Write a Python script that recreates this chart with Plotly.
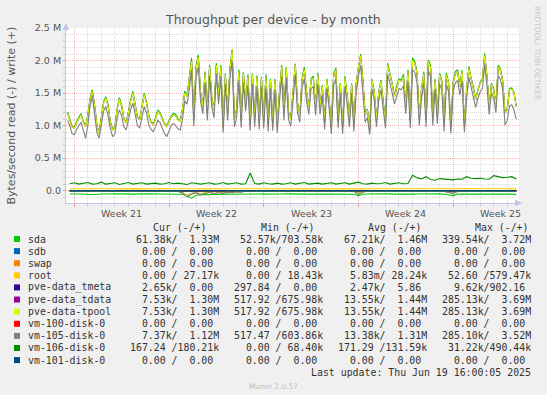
import plotly.graph_objects as go
import pandas as pd

# ---------------- data (k bytes/s) ----------------
END = pd.Timestamp("2025-06-19 16:00")

# 4-hour samples (200 points, ending at END)
tpool_write_k = [
    1190, 1080, 980, 960, 1050, 1110, 1164, 1050, 985, 1150,
    1400, 1523, 1300, 1000, 882, 1150, 1350, 1420, 1300, 1050,
    934, 960, 1250, 1405, 1300, 1100, 1036, 1200, 1380, 1498,
    1300, 1120, 1087, 1300, 1472, 1350, 1150, 1050, 1010, 1100,
    1216, 1180, 1100, 1020, 985, 1050, 1130, 1164, 1150, 1090,
    1062, 1250, 1500, 1450, 1700, 1985, 1100, 1880, 2050, 1500,
    1300, 1800, 1190, 1900, 1400, 1240, 1930, 1450, 1900, 960,
    1780, 1190, 1850, 2150, 1090, 1240, 1830, 1090, 1800, 1340,
    1750, 1010, 1780, 1090, 1750, 1040, 1730, 1060, 1750, 1010,
    1700, 1010, 1700, 985, 1500, 1900, 1190, 1880, 1200, 1090,
    1500, 1930, 1340, 1150, 1700, 1860, 1500, 1290, 1700, 1730,
    1280, 1780, 1290, 1600, 1040, 1700, 1400, 960, 1750, 1860,
    1060, 1630, 960, 1730, 1450, 1090, 1630, 1010, 1630, 1900,
    2070, 1680, 1160, 1240, 930, 1700, 1520, 1090, 1500, 1680,
    1340, 1060, 1930, 1800, 1630, 1450, 1600, 1700, 1680, 1750,
    1290, 1830, 1060, 2000, 1960, 1800, 1110, 1550, 1800, 1090,
    1980, 1900, 1110, 1700, 1140, 1780, 1680, 1010, 1780, 1650,
    960, 1650, 1800, 1830, 1600, 1830, 990, 1550, 1880, 1700,
    1580, 1400, 1550, 1650, 1700, 2080, 1750, 1290, 1630, 1550,
    1320, 1900, 1850, 1680, 1190, 1240, 1550, 1560, 1500, 1290,
]
tdata_write_k = tpool_write_k  # identical per legend

vm105_write_k = [
    1080, 1000, 880, 857, 940, 1000, 1050, 930, 805, 1000,
    1300, 1450, 1200, 900, 805, 1000, 1220, 1293, 1150, 950,
    831, 870, 1120, 1241, 1150, 980, 934, 1080, 1250, 1344,
    1180, 1000, 960, 1150, 1293, 1200, 1020, 940, 908, 980,
    1080, 1050, 960, 880, 831, 920, 1000, 1036, 1000, 950,
    934, 1100, 1380, 1330, 1560, 1850, 990, 1740, 1900, 1380,
    1180, 1660, 1080, 1760, 1280, 1120, 1800, 1330, 1760, 890,
    1640, 1080, 1700, 2000, 980, 1120, 1700, 970, 1660, 1220,
    1620, 920, 1640, 980, 1610, 940, 1600, 960, 1600, 910,
    1570, 920, 1560, 890, 1380, 1760, 1080, 1740, 1090, 990,
    1380, 1790, 1200, 1050, 1570, 1720, 1380, 1170, 1570, 1600,
    1160, 1640, 1170, 1470, 940, 1570, 1280, 870, 1620, 1720,
    960, 1500, 870, 1600, 1330, 980, 1500, 910, 1500, 1760,
    1930, 1550, 1050, 1120, 860, 1570, 1400, 980, 1380, 1550,
    1220, 960, 1790, 1660, 1500, 1330, 1470, 1570, 1550, 1610,
    1180, 1690, 960, 1860, 1820, 1660, 1000, 1420, 1660, 980,
    1840, 1760, 1000, 1570, 1030, 1640, 1550, 910, 1640, 1520,
    880, 1520, 1660, 1690, 1470, 1690, 900, 1420, 1740, 1570,
    1450, 1280, 1420, 1520, 1570, 1940, 1610, 1170, 1500, 1420,
    1200, 1760, 1710, 1550, 1010, 1080, 1300, 1320, 1240, 1100,
]

sda_write_k = [
    1210, 1100, 995, 975, 1065, 1130, 1185, 1065, 1000, 1170,
    1425, 1550, 1320, 1015, 895, 1170, 1370, 1445, 1320, 1065,
    950, 975, 1270, 1430, 1320, 1115, 1050, 1220, 1405, 1525,
    1320, 1135, 1100, 1320, 1500, 1370, 1165, 1065, 1025, 1120,
    1240, 1200, 1115, 1035, 1000, 1065, 1150, 1190, 1170, 1105,
    1075, 1270, 1530, 1470, 1720, 2040, 1115, 1910, 2090, 1520,
    1315, 1830, 1205, 1930, 1420, 1255, 1960, 1465, 1930, 975,
    1800, 1205, 1880, 2170, 1105, 1255, 1860, 1105, 1820, 1355,
    1790, 1025, 1800, 1105, 1770, 1055, 1750, 1075, 1790, 1025,
    1720, 1025, 1720, 1000, 1520, 1930, 1205, 1900, 1215, 1105,
    1520, 1950, 1355, 1165, 1720, 1900, 1520, 1305, 1720, 1760,
    1295, 1810, 1305, 1620, 1055, 1720, 1415, 975, 1790, 1890,
    1075, 1650, 975, 1760, 1465, 1105, 1650, 1025, 1650, 1920,
    2100, 1700, 1175, 1255, 945, 1720, 1535, 1105, 1520, 1700,
    1355, 1075, 1960, 1820, 1650, 1465, 1620, 1720, 1700, 1790,
    1305, 1860, 1075, 2040, 1990, 1820, 1125, 1565, 1830, 1105,
    2010, 1930, 1125, 1720, 1155, 1800, 1700, 1025, 1810, 1670,
    975, 1670, 1830, 1860, 1620, 1850, 1005, 1565, 1910, 1720,
    1600, 1415, 1565, 1670, 1720, 2110, 1770, 1305, 1650, 1565,
    1335, 1930, 1870, 1700, 1205, 1255, 1570, 1580, 1515, 1305,
]

# 8-hour samples (100 points, ending at END)
vm106_write_k = [
    105, 120, 100, 110, 125, 100, 105, 130, 100, 110,
    120, 95, 110, 125, 100, 105, 120, 100, 110, 115,
    100, 105, 125, 105, 115, 110, 95, 120, 110, 100,
    110, 120, 100, 105, 125, 100, 110, 120, 100, 105,
    270, 110, 100, 120, 105, 100, 115, 100, 105, 120,
    100, 110, 125, 100, 105, 115, 100, 110, 120, 100,
    105, 120, 100, 110, 130, 105, 100, 115, 105, 110,
    125, 100, 110, 120, 105, 110, 235, 200, 180, 215,
    170, 160, 185, 175, 170, 165, 180, 175, 215, 190,
    185, 190, 180, 175, 230, 210, 200, 205, 215, 180,
]
sda_read_k = [
    52, 50, 53, 51, 58, 62, 60, 52, 50, 53,
    51, 52, 50, 54, 51, 50, 53, 52, 50, 51,
    53, 50, 52, 51, 50, 55, 80, 115, 72, 60,
    58, 62, 55, 60, 54, 52, 55, 53, 51, 52,
    54, 52, 51, 53, 50, 52, 54, 51, 50, 53,
    52, 50, 53, 51, 54, 52, 50, 53, 51, 52,
    50, 53, 52, 55, 78, 56, 52, 50, 53, 51,
    52, 50, 54, 51, 52, 50, 53, 52, 50, 51,
    53, 52, 50, 55, 62, 76, 54, 51, 50, 52,
    51, 53, 50, 52, 51, 54, 52, 50, 53, 61,
]
tpool_read_k = [
    8, 10, 7, 9, 12, 8, 7, 11, 9, 8,
    10, 8, 9, 7, 11, 8, 9, 10, 8, 7,
    9, 11, 8, 10, 9, 30, 75, 45, 25, 55,
    30, 20, 45, 25, 35, 15, 28, 12, 18, 10,
    9, 12, 8, 10, 14, 9, 8, 11, 10, 9,
    12, 8, 10, 9, 11, 8, 10, 9, 12, 8,
    9, 10, 8, 12, 45, 15, 9, 10, 8, 11,
    9, 8, 12, 10, 9, 8, 11, 9, 10, 8,
    12, 9, 10, 11, 25, 35, 12, 9, 8, 10,
    9, 11, 8, 10, 9, 12, 8, 10, 9, 8,
]
tdata_read_k = tpool_read_k  # identical per legend
vm105_read_k = [
    7, 9, 6, 8, 11, 7, 6, 10, 8, 7,
    9, 7, 8, 6, 10, 7, 8, 9, 7, 6,
    8, 10, 7, 9, 8, 40, 95, 55, 35, 65,
    40, 25, 55, 30, 45, 20, 35, 15, 22, 9,
    8, 11, 7, 9, 13, 8, 7, 10, 9, 8,
    11, 7, 9, 8, 10, 7, 9, 8, 11, 7,
    8, 9, 7, 11, 60, 20, 8, 9, 7, 10,
    8, 7, 11, 9, 8, 7, 10, 8, 9, 7,
    11, 8, 9, 10, 30, 45, 11, 8, 7, 9,
    8, 10, 7, 9, 8, 11, 7, 9, 8, 7,
]
root_write_k = [
    30, 28, 27, 31, 29, 28, 30, 27, 29, 31,
    28, 27, 30, 29, 28, 31, 27, 29, 30, 28,
    27, 29, 31, 28, 30, 32, 29, 28, 30, 27,
    29, 31, 28, 27, 30, 29, 28, 31, 27, 29,
    30, 28, 27, 29, 31, 28, 30, 27, 29, 28,
    31, 28, 27, 30, 29, 28, 31, 27, 29, 30,
    28, 27, 29, 31, 28, 30, 27, 29, 28, 31,
    28, 27, 30, 29, 28, 31, 27, 29, 30, 28,
    27, 29, 31, 28, 30, 27, 29, 28, 31, 28,
    27, 30, 29, 28, 31, 27, 29, 28, 30, 27,
]

# daily samples (34 points, ending at END)
tmeta_read_k = [2.4, 2.6, 2.5, 2.3, 2.5, 2.7, 2.4, 2.5, 2.6, 2.4, 2.5, 2.3,
                2.6, 2.5, 2.4, 2.5, 2.6, 2.4, 2.5, 2.7, 2.4, 2.5, 2.3, 2.6,
                2.5, 2.4, 2.6, 2.5, 2.4, 2.5, 2.6, 2.4, 2.5, 2.65]
tmeta_write_k = [0.006, 0.005, 0.007, 0.006, 0.005, 0.006, 0.007, 0.006, 0.005,
                 0.006, 0.006, 0.005, 0.007, 0.006, 0.005, 0.006, 0.007, 0.006,
                 0.005, 0.006, 0.006, 0.005, 0.007, 0.006, 0.005, 0.006, 0.007,
                 0.006, 0.005, 0.006, 0.006, 0.005, 0.006, 0.0]
vm106_read_k = [0.17, 0.15, 0.2, 0.16, 0.18, 0.17, 0.15, 0.19, 0.17, 0.16, 0.18,
                0.17, 0.15, 0.2, 0.16, 0.18, 0.17, 0.15, 0.19, 0.17, 0.16, 0.18,
                0.17, 0.15, 0.2, 0.16, 0.18, 0.17, 0.15, 0.19, 0.17, 0.16, 0.18, 0.17]
zero_k = [0, 0, 0, 0, 0, 0, 0, 0, 0, 0, 0, 0, 0, 0, 0, 0, 0,
          0, 0, 0, 0, 0, 0, 0, 0, 0, 0, 0, 0, 0, 0, 0, 0, 0]

# legend table
legend_names = ["sda", "sdb", "swap", "root", "pve-data_tmeta", "pve-data_tdata",
                "pve-data-tpool", "vm-100-disk-0", "vm-105-disk-0", "vm-106-disk-0",
                "vm-101-disk-0"]
legend_colors = ["#00CC00", "#0066B3", "#FF8000", "#FFCC00", "#330099", "#990099",
                 "#CCFF00", "#FF0000", "#808080", "#008F00", "#00487D"]
Z = "  0.00 /  0.00 "
cur_col = [" 61.38k/  1.33M", Z, Z, "  0.00 / 27.17k", "  2.65k/  0.00 ",
           "  7.53k/  1.30M", "  7.53k/  1.30M", Z, "  7.37k/  1.12M",
           "167.24 /180.21k", Z]
min_col = [" 52.57k/703.58k", Z, Z, "  0.00 / 18.43k", "297.84 /  0.00 ",
           "517.92 /675.98k", "517.92 /675.98k", Z, "517.47 /603.86k",
           "  0.00 / 68.40k", Z]
avg_col = [" 67.21k/  1.46M", Z, Z, "  5.83m/ 28.24k", "  2.47k/  5.86 ",
           " 13.55k/  1.44M", " 13.55k/  1.44M", Z, " 13.38k/  1.31M",
           "171.29 /131.59k", Z]
max_col = ["339.54k/  3.72M", Z, Z, " 52.60 /579.47k", "  9.62k/902.16 ",
           "285.13k/  3.69M", "285.13k/  3.69M", Z, "285.10k/  3.52M",
           " 31.22k/490.44k", Z]
headers = ["Cur (-/+)", "Min (-/+)", "Avg (-/+)", "Max (-/+)"]
week_labels = ["Week 21", "Week 22", "Week 23", "Week 24", "Week 25"]
week_mid = ["2025-05-21 12:00", "2025-05-28 12:00", "2025-06-04 12:00",
            "2025-06-11 12:00", "2025-06-18 12:00"]
y_tickvals = [0, 0.5e6, 1.0e6, 1.5e6, 2.0e6, 2.5e6]
y_ticktext = ["0.0", "0.5 M", "1.0 M", "1.5 M", "2.0 M", "2.5 M"]

# ---------------- helpers ----------------
def times(n, hours):
    return pd.date_range(end=END, periods=n, freq=f"{hours}h")

def pos(vals):
    return [v * 1000 for v in vals]

def neg(vals):
    return [-v * 1000 for v in vals]

def px(x):
    return (x - 66) / 453.0

def py(y):
    return (203 - y) / 175.0

fig = go.Figure()

def add(vals, color, step, sign=1, width=1.1):
    fig.add_trace(go.Scatter(
        x=times(len(vals), step), y=pos(vals) if sign > 0 else neg(vals),
        mode="lines", line=dict(color=color, width=width),
        hoverinfo="skip", showlegend=False))

C = dict(zip(legend_names, legend_colors))
# draw in munin order: read (negative) then write (positive)
add(sda_read_k, C["sda"], 8, -1)
add(sda_write_k, C["sda"], 4)
add(zero_k, C["sdb"], 24, -1); add(zero_k, C["sdb"], 24)
add(zero_k, C["swap"], 24, -1); add(zero_k, C["swap"], 24)
add(zero_k, C["root"], 24, -1)
add(root_write_k, C["root"], 8)
add(tmeta_read_k, C["pve-data_tmeta"], 24, -1)
add(tmeta_write_k, C["pve-data_tmeta"], 24)
add(tdata_read_k, C["pve-data_tdata"], 8, -1)
add(tdata_write_k, C["pve-data_tdata"], 4)
add(tpool_read_k, C["pve-data-tpool"], 8, -1)
add(tpool_write_k, C["pve-data-tpool"], 4)
add(zero_k, C["vm-100-disk-0"], 24, -1); add(zero_k, C["vm-100-disk-0"], 24)
add(vm105_read_k, C["vm-105-disk-0"], 8, -1)
add(vm105_write_k, C["vm-105-disk-0"], 4)
add(vm106_read_k, C["vm-106-disk-0"], 24, -1)
add(vm106_write_k, C["vm-106-disk-0"], 8)
add(zero_k, C["vm-101-disk-0"], 24, -1); add(zero_k, C["vm-101-disk-0"], 24)

# ---------------- layout ----------------
AXC = "#c4c4e4"
MAJ = "#f3b4b4"
MIN = "#dcdcdc"
fig.update_layout(
    width=547, height=395, autosize=False,
    margin=dict(l=66, r=28, t=28, b=192, pad=0),
    paper_bgcolor="#F0F0F0", plot_bgcolor="#FFFFFF",
    hovermode=False,
    font=dict(family="DejaVu Sans", size=10, color="#555555"),
    xaxis=dict(
        type="date", range=["2025-05-17 09:17", "2025-06-19 20:53"],
        tickmode="linear", tick0="2025-05-18", dtick=7 * 86400000,
        showticklabels=False, showgrid=True, gridcolor=MAJ,
        griddash="1px,1px", gridwidth=1,
        ticks="outside", ticklen=3, tickcolor="#f08a8a",
        showline=True, linecolor=AXC, linewidth=1, zeroline=False,
        minor=dict(tickmode="linear", tick0="2025-05-18", dtick=86400000,
                   showgrid=True, gridcolor=MIN, griddash="1px,1px",
                   ticks="outside", ticklen=2, tickcolor="#c8c8c8"),
        fixedrange=True,
    ),
    yaxis=dict(
        range=[-0.19e6, 2.5e6], tickmode="array", tickvals=y_tickvals,
        ticktext=y_ticktext, showgrid=True, gridcolor=MAJ,
        griddash="1px,1px", gridwidth=1, zeroline=False,
        ticks="outside", ticklen=2, tickcolor="#f08a8a",
        showline=True, linecolor=AXC, linewidth=1,
        tickfont=dict(family="DejaVu Sans", size=9.5, color="#555555"),
        minor=dict(tickmode="linear", tick0=0, dtick=1e5, showgrid=True,
                   gridcolor=MIN, griddash="1px,1px",
                   ticks="outside", ticklen=2, tickcolor="#c8c8c8"),
        fixedrange=True,
    ),
)

ann = []
shapes = []
# title
ann.append(dict(text="Throughput per device - by month", x=px(273), y=py(20),
                xref="paper", yref="paper", showarrow=False, xanchor="center",
                yanchor="middle", font=dict(family="DejaVu Sans", size=12.5, color="#555555")))
# y label
ann.append(dict(text="Bytes/second read (-) / write (+)", x=px(11), y=py(115.5),
                xref="paper", yref="paper", showarrow=False, textangle=-90,
                xanchor="center", yanchor="middle",
                font=dict(family="DejaVu Sans", size=11, color="#555555")))
# rrdtool credit
ann.append(dict(text="RRDTOOL/ TOBI OETIKER", x=px(538), y=py(53), xref="paper",
                yref="paper", showarrow=False, textangle=90, xanchor="center",
                yanchor="middle", font=dict(family="DejaVu Sans", size=7.5, color="#c8c8c8")))
# munin footer
ann.append(dict(text="Munin 2.0.57", x=px(273), y=py(386), xref="paper", yref="paper",
                showarrow=False, xanchor="center", yanchor="middle",
                font=dict(family="DejaVu Sans", size=7.5, color="#bdbdbd")))
# week labels
for lab, d in zip(week_labels, week_mid):
    ann.append(dict(text=lab, x=d, y=py(213), xref="x", yref="paper", showarrow=False,
                    xanchor="center", yanchor="middle",
                    font=dict(family="DejaVu Sans", size=9.5, color="#555555")))
# axis arrows
ann.append(dict(text="", x=px(522), y=py(203), xref="paper", yref="paper",
                ax=-8, ay=0, axref="pixel", ayref="pixel", showarrow=True,
                arrowhead=2, arrowsize=1, arrowwidth=1.4, arrowcolor=AXC))
ann.append(dict(text="", x=px(66), y=py(23), xref="paper", yref="paper",
                ax=0, ay=8, axref="pixel", ayref="pixel", showarrow=True,
                arrowhead=2, arrowsize=1, arrowwidth=1.4, arrowcolor=AXC))

MONO = dict(family="DejaVu Sans Mono", size=9.9, color="#333333")

def nb(s):
    return s.replace(" ", "\u00a0")

header_x = [151, 259, 365.5, 472.5]
for h, hx in zip(headers, header_x):
    ann.append(dict(text=nb(h), x=px(hx), y=py(227), xref="paper", yref="paper",
                    showarrow=False, xanchor="left", yanchor="middle", font=MONO))

col_ends = [220.5, 324.5, 428.5, 533.0]
row0 = 239.0
rowh = 12.11
for r, name in enumerate(legend_names):
    yy = row0 + r * rowh
    shapes.append(dict(type="rect", xref="paper", yref="paper",
                       x0=px(14), x1=px(20), y0=py(yy + 3), y1=py(yy - 3),
                       fillcolor=legend_colors[r], line=dict(width=0)))
    ann.append(dict(text=nb(name), x=px(26), y=py(yy), xref="paper", yref="paper",
                    showarrow=False, xanchor="left", yanchor="middle", font=MONO))
    for col, xe in zip([cur_col, min_col, avg_col, max_col], col_ends):
        ann.append(dict(text=nb(col[r]), x=px(xe), y=py(yy), xref="paper",
                        yref="paper", showarrow=False, xanchor="right",
                        yanchor="middle", font=MONO))

ann.append(dict(text=nb("Last update: Thu Jun 19 16:00:05 2025"), x=px(533),
                y=py(372.2), xref="paper", yref="paper", showarrow=False,
                xanchor="right", yanchor="middle", font=MONO))

fig.update_layout(annotations=ann, shapes=shapes)
fig.write_html("out.html", config={"displayModeBar": False, "staticPlot": True})
